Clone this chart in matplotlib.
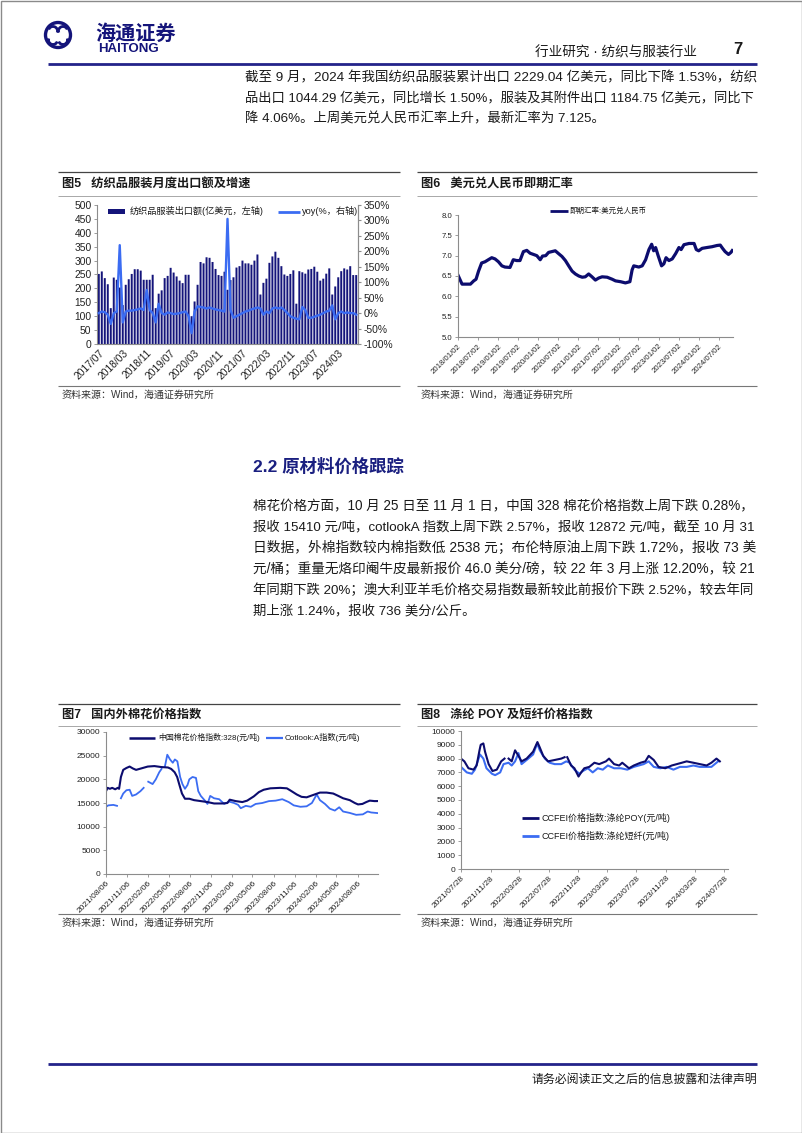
import numpy as np
import pandas as pd
import matplotlib
matplotlib.use('Agg')
import matplotlib.pyplot as plt
from matplotlib.patches import Rectangle, Circle, Arc
from matplotlib.lines import Line2D

# ---------------- data ----------------
# Fig 5: monthly textile & apparel exports (100m USD) and yoy (%), 2017/07 .. 2024/09
export_value = [252, 261, 237, 215, 129, 239, 231, 203, 140, 213, 233, 252, 269, 269, 264, 231,
                231, 231, 249, 129, 181, 193, 237, 245, 274, 257, 243, 228, 219, 249, 249, 100,
                153, 213, 295, 290, 312, 310, 295, 270, 248, 245, 260, 195, 230, 240, 275, 280,
                300, 290, 290, 285, 300, 322, 178, 220, 235, 292, 315, 332, 310, 280, 250, 245,
                252, 265, 145, 262, 258, 253, 268, 270, 278, 260, 228, 235, 253, 272, 178, 207,
                240, 262, 272, 268, 280, 248, 248]
export_yoy = [0, 5, 3, -5, -35, 0, 5, 220, -30, 5, 8, 8, 10, 12, 15, 10,
              75, 10, 0, -30, 30, 0, -5, 2, 0, -3, -2, 0, 3, 5, -10, -65,
              5, 22, 20, 18, 15, 18, 15, 12, 10, 8, 5, 305, 10, -15, -10, -5,
              0, 5, 8, 12, 15, 18, 15, -5, 5, 0, 15, 18, 15, 18, 10, 0,
              -10, -15, -18, -20, 20, 10, -15, -15, -12, -8, -5, 0, 5, 8, 25, -20,
              0, 5, 0, 2, 0, 0, -5]
export_ticklabels = ["2017/07", "2018/03", "2018/11", "2019/07", "2020/03", "2020/11",
                     "2021/07", "2022/03", "2022/11", "2023/07", "2024/03"]

# Fig 6: USD/CNY spot
fx_dates = ["2018-01-02", "2018-02-08", "2018-03-10", "2018-04-25", "2018-05-25", "2018-06-15",
            "2018-07-08", "2018-08-05", "2018-09-05", "2018-10-05", "2018-11-05", "2018-12-05",
            "2019-01-05", "2019-02-05", "2019-03-05", "2019-04-20", "2019-05-20", "2019-06-20",
            "2019-07-20", "2019-08-20", "2019-09-20", "2019-10-20", "2019-11-20", "2019-12-20",
            "2020-01-20", "2020-02-10", "2020-03-10", "2020-04-05", "2020-05-05", "2020-06-05",
            "2020-07-05", "2020-08-05", "2020-09-05", "2020-10-05", "2020-11-05", "2020-12-05",
            "2021-01-05", "2021-02-05", "2021-03-05", "2021-04-05", "2021-05-05", "2021-06-05",
            "2021-07-05", "2021-08-05", "2021-09-20", "2021-11-05", "2021-12-05", "2022-01-20",
            "2022-03-05", "2022-04-15", "2022-05-05", "2022-05-20", "2022-07-05", "2022-08-05",
            "2022-09-05", "2022-10-05", "2022-10-30", "2022-11-17", "2022-12-05", "2022-12-28",
            "2023-01-28", "2023-02-18", "2023-03-10", "2023-04-05", "2023-05-05", "2023-06-05",
            "2023-07-05", "2023-07-25", "2023-08-20", "2023-10-05", "2023-11-20", "2023-12-10",
            "2024-01-01", "2024-02-01", "2024-03-15", "2024-05-01", "2024-06-15", "2024-07-15",
            "2024-08-05", "2024-08-28", "2024-09-28", "2024-10-20", "2024-11-01"]
fx_values = [6.52, 6.30, 6.30, 6.30, 6.38, 6.42, 6.62, 6.82, 6.85, 6.90, 6.95, 6.92,
             6.85, 6.75, 6.72, 6.71, 6.90, 6.88, 6.88, 7.10, 7.13, 7.06, 7.03, 7.00,
             6.90, 6.99, 7.00, 7.08, 7.10, 7.12, 7.05, 6.98, 6.88, 6.75, 6.62, 6.55,
             6.50, 6.47, 6.48, 6.55, 6.48, 6.40, 6.45, 6.48, 6.47, 6.42, 6.38, 6.36,
             6.33, 6.36, 6.65, 6.75, 6.72, 6.75, 6.90, 7.15, 7.28, 7.12, 7.20, 7.00,
             6.75, 6.80, 6.95, 6.88, 6.92, 7.05, 7.20, 7.15, 7.27, 7.30, 7.30, 7.15,
             7.12, 7.18, 7.20, 7.22, 7.25, 7.26, 7.18, 7.10, 7.03, 7.08, 7.125]
fx_ticks = ["2018/01/02", "2018/07/02", "2019/01/02", "2019/07/02", "2020/01/02", "2020/07/02",
            "2021/01/02", "2021/07/02", "2022/01/02", "2022/07/02", "2023/01/02", "2023/07/02",
            "2024/01/02", "2024/07/02"]

# Fig 7: cotton price indices (yuan/t)
cn_dates = ["2021-08-06", "2021-08-13", "2021-08-23", "2021-09-02", "2021-09-15", "2021-09-26",
            "2021-10-02", "2021-10-10", "2021-10-20", "2021-11-03", "2021-11-17", "2021-12-01",
            "2021-12-15", "2022-01-06", "2022-02-04", "2022-03-05", "2022-04-03", "2022-05-03",
            "2022-05-17", "2022-06-01", "2022-06-12", "2022-06-22", "2022-07-03", "2022-07-16",
            "2022-08-04", "2022-08-25", "2022-09-23", "2022-10-22", "2022-11-20", "2022-12-26",
            "2023-01-17", "2023-01-27", "2023-02-22", "2023-03-23", "2023-04-13", "2023-05-12",
            "2023-06-03", "2023-06-24", "2023-07-23", "2023-09-04", "2023-10-03", "2023-10-20",
            "2023-11-15", "2023-12-06", "2023-12-28", "2024-01-26", "2024-02-24", "2024-03-24",
            "2024-04-22", "2024-05-14", "2024-06-04", "2024-07-03", "2024-07-25", "2024-08-08",
            "2024-08-27", "2024-09-13", "2024-09-28", "2024-10-19", "2024-11-01"]
cn_values = [17500, 18200, 18000, 18200, 17900, 18200, 18000, 20500, 22000, 22400, 22700, 22300,
             22000, 22300, 22700, 22800, 22600, 22500, 22200, 21500, 20500, 18800, 17000, 15900,
             15900, 15600, 15400, 15200, 14900, 14900, 15000, 15700, 15400, 15200, 15500, 16400,
             17300, 17800, 18100, 18200, 18100, 17600, 16800, 16300, 16200, 16700, 17200, 17200,
             17000, 16500, 16000, 15600, 15000, 14700, 14800, 15200, 15500, 15400, 15410]
ct_dates = ["2021-08-06", "2021-08-16", "2021-09-07", "2021-09-23", "2021-10-01", "2021-10-10",
            "2021-10-20", "2021-11-03", "2021-11-17", "2021-11-28", "2021-12-15", "2022-01-03",
            "2022-01-17", "2022-01-27", "2022-02-06", "2022-02-25", "2022-03-11", "2022-03-26",
            "2022-04-05", "2022-04-12", "2022-04-20", "2022-04-30", "2022-05-12", "2022-05-24",
            "2022-06-02", "2022-06-13", "2022-06-25", "2022-07-05", "2022-07-16", "2022-07-27",
            "2022-08-04", "2022-08-18", "2022-09-02", "2022-09-12", "2022-09-23", "2022-10-11",
            "2022-10-22", "2022-11-03", "2022-11-20", "2022-12-12", "2023-01-03", "2023-01-24",
            "2023-02-15", "2023-03-05", "2023-03-16", "2023-04-07", "2023-04-29", "2023-05-20",
            "2023-06-18", "2023-07-17", "2023-08-15", "2023-09-13", "2023-10-11", "2023-11-02",
            "2023-12-01", "2023-12-28", "2024-01-20", "2024-02-03", "2024-02-10", "2024-02-24",
            "2024-03-17", "2024-04-07", "2024-04-29", "2024-05-18", "2024-06-04", "2024-07-03",
            "2024-07-31", "2024-08-29", "2024-09-19", "2024-10-04", "2024-11-01"]
ct_values = [14200, 14500, 14600, 14400, np.nan, 16000, 17000, 17700, 17800, 16500, 16800, 17500,
             18200, np.nan, 19500, 19000, 20000, 21500, 22200, np.nan, 22800, 25200, 24200, 23500,
             24200, 23800, 20500, 19000, 18000, 18800, 20000, 20500, 20300, 17500, 16500, 15500,
             14800, 16500, 16000, 15800, 14800, 15300, 15000, 14600, 13900, 14400, 14200, 14800,
             15000, 15400, 15500, 15800, 15200, 14500, 14200, 14300, 15000, 16200, 16800, 15600,
             14800, 13800, 13400, 14100, 13200, 12900, 12500, 12600, 13200, 13000, 12872]
cot_ticks = ["2021/08/06", "2021/11/06", "2022/02/06", "2022/05/06", "2022/08/06", "2022/11/06",
             "2023/02/06", "2023/05/06", "2023/08/06", "2023/11/06", "2024/02/06", "2024/05/06",
             "2024/08/06"]

# Fig 8: polyester POY and staple fibre (yuan/t)
poy_dates = ["2021-07-28", "2021-08-11", "2021-08-28", "2021-09-18", "2021-10-01", "2021-10-13",
             "2021-10-18", "2021-10-29", "2021-11-05", "2021-11-20", "2021-12-06", "2021-12-24",
             "2022-01-11", "2022-01-25", "2022-02-03", "2022-02-11", "2022-02-24", "2022-03-10",
             "2022-03-24", "2022-04-06", "2022-04-27", "2022-05-24", "2022-06-11", "2022-06-21",
             "2022-07-05", "2022-07-25", "2022-08-22", "2022-09-18", "2022-10-02", "2022-10-08",
             "2022-10-13", "2022-10-29", "2022-11-12", "2022-11-29", "2022-12-10", "2022-12-23",
             "2023-01-13", "2023-02-03", "2023-02-23", "2023-03-23", "2023-04-05", "2023-04-26",
             "2023-05-17", "2023-05-30", "2023-06-27", "2023-07-17", "2023-08-14", "2023-09-03",
             "2023-09-17", "2023-10-08", "2023-10-28", "2023-11-25", "2023-12-22", "2024-01-12",
             "2024-02-02", "2024-02-22", "2024-03-21", "2024-04-17", "2024-05-15", "2024-06-04",
             "2024-06-25", "2024-07-09"]
poy_values = [8000, 7800, 7300, 7200, 7500, 8600, 9000, 9100, 8500, 7600, 7100, 7200,
              7800, 8000, np.nan, 8000, 7800, 8600, 8200, 7800, 8000, 8500, 9200, 8800,
              8200, 7800, 7900, 8000, 8100, np.nan, 8100, 7500, 7300, 6700, 7000, 7300,
              7400, 7700, 7600, 7800, 8000, 7600, 7500, 7700, 7300, 7500, 7700, 7800,
              8200, 7900, 7400, 7300, 7500, 7600, 7700, 7800, 7700, 7600, 7500, 7700,
              8000, 7800]
psf_dates = ["2021-07-28", "2021-08-21", "2021-09-11", "2021-09-24", "2021-10-15", "2021-10-29",
             "2021-11-11", "2021-12-04", "2021-12-17", "2022-01-07", "2022-01-21", "2022-02-11",
             "2022-02-24", "2022-03-10", "2022-03-24", "2022-04-06", "2022-05-04", "2022-05-24",
             "2022-06-10", "2022-06-21", "2022-07-12", "2022-08-01", "2022-08-22", "2022-09-18",
             "2022-10-09", "2022-10-23", "2022-11-12", "2022-12-03", "2022-12-17", "2023-01-07",
             "2023-01-27", "2023-02-17", "2023-03-10", "2023-03-31", "2023-04-26", "2023-05-24",
             "2023-06-20", "2023-07-17", "2023-08-27", "2023-09-17", "2023-10-08", "2023-11-04",
             "2023-12-01", "2023-12-29", "2024-01-25", "2024-02-22", "2024-03-21", "2024-04-17",
             "2024-05-15", "2024-06-04", "2024-06-18", "2024-07-02"]
psf_values = [7400, 7000, 6900, 7200, 8300, 8000, 7300, 6900, 6800, 7000, 7600, 7700,
              7500, 7800, 8400, 7600, 8000, 8300, 9100, 8600, 8000, 7700, 7600, 7600,
              7800, 7700, 7200, 6900, 7100, 7300, 7000, 7300, 7200, 7500, 7300, 7300,
              7200, 7400, 7600, 7800, 7400, 7300, 7400, 7200, 7400, 7400, 7500, 7400,
              7400, 7400, 7600, 7800]
pol_ticks = ["2021/07/28", "2021/11/28", "2022/03/28", "2022/07/28", "2022/11/28", "2023/03/28",
             "2023/07/28", "2023/11/28", "2024/03/28", "2024/07/28"]

# ---------------- page ----------------
W, H = 802, 1133
NAVY = '#14147a'
DNAVY = '#0c0c6e'
BLUE = '#3b6cf2'
TXT = '#1a1a1a'
GRID = '#8c8c8c'
FAM = ['Liberation Sans', 'Noto Sans CJK SC', 'DejaVu Sans']
CJK = ['Noto Sans CJK SC', 'DejaVu Sans']
plt.rcParams['font.family'] = FAM
plt.rcParams['axes.unicode_minus'] = False

fig = plt.figure(figsize=(W / 100, H / 100), dpi=100)


def ax_px(x0, y0, x1, y1):
    return fig.add_axes([x0 / W, 1 - y1 / H, (x1 - x0) / W, (y1 - y0) / H])


def style_axes(ax, size, color=GRID):
    for s in ['top', 'right']:
        ax.spines[s].set_visible(False)
    for s in ['left', 'bottom']:
        ax.spines[s].set_color(color)
        ax.spines[s].set_linewidth(0.8)
    ax.tick_params(axis='both', labelsize=size, colors=color, labelcolor='#222222',
                   length=2.5, width=0.6, pad=1.5)


def rot_labels(ax, size):
    for lab in ax.get_xticklabels():
        lab.set_rotation(45)
        lab.set_ha('right')
        lab.set_rotation_mode('anchor')
        lab.set_fontsize(size)


# ---- Fig 5 ----
ax5 = ax_px(97, 205, 358, 344)
xi = np.arange(len(export_value))
bars = ax5.bar(xi, export_value, width=0.66, color=NAVY, lw=0, zorder=2)
for b in bars:
    b.set_snap(False)
ax5.set_xlim(-0.6, len(xi) - 0.4)
ax5.set_ylim(0, 500)
ax5.set_yticks(np.arange(0, 501, 50))
style_axes(ax5, 7.4)
ax5.spines['right'].set_visible(True)
ax5.spines['right'].set_color(GRID)
ax5.set_xticks(np.arange(0, len(xi), 8))
ax5.set_xticklabels(export_ticklabels)
ax5.tick_params(axis='x', length=0, pad=3)
rot_labels(ax5, 7.4)
ax5r = ax5.twinx()
ax5r.plot(xi, export_yoy, color=BLUE, lw=1.7, zorder=3)
ax5r.set_ylim(-100, 350)
ax5r.set_yticks(np.arange(-100, 351, 50))
ax5r.set_yticklabels([f"{v}%" for v in range(-100, 351, 50)])
for s in ['top', 'left', 'bottom']:
    ax5r.spines[s].set_visible(False)
ax5r.spines['right'].set_color(GRID)
ax5r.tick_params(axis='y', labelsize=7.4, colors=GRID, labelcolor='#222222', length=2.5, pad=1.5)

# ---- Fig 6 ----
ax6 = ax_px(458, 215, 733, 337)
fxd = pd.to_datetime(fx_dates)
ax6.plot(fxd, fx_values, color=DNAVY, lw=2.3)
ax6.set_ylim(5.0, 8.0)
ax6.set_yticks(np.arange(5.0, 8.01, 0.5))
ax6.set_yticklabels([f"{v:.1f}" for v in np.arange(5.0, 8.01, 0.5)])
t6 = pd.to_datetime(fx_ticks, format="%Y/%m/%d")
ax6.set_xlim(t6[0], pd.Timestamp("2024-11-08"))
ax6.set_xticks(t6)
ax6.set_xticklabels(fx_ticks)
style_axes(ax6, 5.6)
rot_labels(ax6, 5.6)

# ---- Fig 7 ----
ax7 = ax_px(106, 732, 378, 874)
ax7.plot(pd.to_datetime(ct_dates), ct_values, color=BLUE, lw=1.3)
ax7.plot(pd.to_datetime(cn_dates), cn_values, color=DNAVY, lw=1.5)
ax7.set_ylim(0, 30000)
ax7.set_yticks(np.arange(0, 30001, 5000))
t7 = pd.to_datetime(cot_ticks, format="%Y/%m/%d")
ax7.set_xlim(t7[0], pd.Timestamp("2024-11-03"))
ax7.set_xticks(t7)
ax7.set_xticklabels(cot_ticks)
style_axes(ax7, 6.0)
rot_labels(ax7, 6.0)

# ---- Fig 8 ----
ax8 = ax_px(461, 731, 728, 869)
ax8.plot(pd.to_datetime(psf_dates), psf_values, color=BLUE, lw=1.5)
ax8.plot(pd.to_datetime(poy_dates), poy_values, color=DNAVY, lw=1.5)
ax8.set_ylim(0, 10000)
ax8.set_yticks(np.arange(0, 10001, 1000))
t8 = pd.to_datetime(pol_ticks, format="%Y/%m/%d")
ax8.set_xlim(t8[0], pd.Timestamp("2024-08-12"))
ax8.set_xticks(t8)
ax8.set_xticklabels(pol_ticks)
style_axes(ax8, 6.0)
rot_labels(ax8, 6.0)

# ---------------- overlay (page text, frames, legends) ----------------
ov = fig.add_axes([0, 0, 1, 1], facecolor='none')
ov.set_xlim(0, W)
ov.set_ylim(H, 0)
ov.axis('off')


def hline(x0, x1, y, color, lw):
    ov.add_line(Line2D([x0, x1], [y, y], color=color, lw=lw, solid_capstyle='butt'))


# page border
ov.add_patch(Rectangle((0.5, 0.5), W - 1, H - 1, fill=False, ec='#8a8a8a', lw=1.0))

# logo
ov.add_patch(Circle((58, 35), 12.5, fill=False, ec=NAVY, lw=2.4))
ov.add_patch(Arc((53, 31), 9, 9, theta1=200, theta2=20, ec=NAVY, lw=2.0))
ov.add_patch(Arc((63, 31), 9, 9, theta1=160, theta2=340, ec=NAVY, lw=2.0))
ov.add_patch(Arc((53, 40), 9, 9, theta1=20, theta2=200, ec=NAVY, lw=2.0))
ov.add_patch(Arc((63, 40), 9, 9, theta1=340, theta2=160, ec=NAVY, lw=2.0))
ov.text(95, 33, "海通证券", fontsize=14.5, fontweight='bold', color=NAVY, family=CJK,
        va='center', ha='left')
ov.text(98, 49, "HAITONG", fontsize=9.5, fontweight='bold', color=NAVY, va='center', ha='left')

# header
ov.text(697, 52, "行业研究 · 纺织与服装行业", fontsize=9.8, color=TXT, ha='right', va='center')
ov.text(742, 50, "7", fontsize=12, fontweight='bold', color=TXT, ha='right', va='center')
hline(48, 757, 63.5, '#23238a', 2.0)

# footer
hline(48, 757, 1063.5, '#23238a', 2.0)
ov.text(757, 1080, "请务必阅读正文之后的信息披露和法律声明", fontsize=8.6, color=TXT,
        ha='right', va='center')

# paragraphs
para1 = ["截至 9 月，2024 年我国纺织品服装累计出口 2229.04 亿美元，同比下降 1.53%，纺织",
         "品出口 1044.29 亿美元，同比增长 1.50%，服装及其附件出口 1184.75 亿美元，同比下",
         "降 4.06%。上周美元兑人民币汇率上升，最新汇率为 7.125。"]
para2 = ["棉花价格方面，10 月 25 日至 11 月 1 日，中国 328 棉花价格指数上周下跌 0.28%，",
         "报收 15410 元/吨，cotlookA 指数上周下跌 2.57%，报收 12872 元/吨，截至 10 月 31",
         "日数据，外棉指数较内棉指数低 2538 元；布伦特原油上周下跌 1.72%，报收 73 美",
         "元/桶；重量无烙印阉牛皮最新报价 46.0 美分/磅，较 22 年 3 月上涨 12.20%，较 21",
         "年同期下跌 20%；澳大利亚羊毛价格交易指数最新较此前报价下跌 2.52%，较去年同",
         "期上涨 1.24%，报收 736 美分/公斤。"]

body = []
for i, s in enumerate(para1):
    t = ov.text(245, 78 + i * 20.5, s, fontsize=9.6, color=TXT, ha='left', va='center')
    body.append((t, 757 - 245 if i < 2 else None))
for i, s in enumerate(para2):
    t = ov.text(253, 506 + i * 21.1, s, fontsize=9.6, color=TXT, ha='left', va='center')
    body.append((t, 757 - 253 if i < 5 else None))

ov.text(253, 466, "2.2 原材料价格跟踪", fontsize=12.5, fontweight='bold', color='#1a1f80',
        ha='left', va='center')

# chart frames and titles
for (x0, x1, ytop, ysub, ybot, ysrc, title) in [
        (58, 400, 171.5, 195.5, 385.5, 395, "图5   纺织品服装月度出口额及增速"),
        (417, 757, 171.5, 195.5, 385.5, 395, "图6   美元兑人民币即期汇率"),
        (58, 400, 703.5, 725.5, 913.5, 923, "图7   国内外棉花价格指数"),
        (417, 757, 703.5, 725.5, 913.5, 923, "图8   涤纶 POY 及短纤价格指数")]:
    hline(x0, x1, ytop, '#444444', 0.9)
    hline(x0, x1, ysub, '#9a9a9a', 0.6)
    hline(x0, x1, ybot, '#777777', 0.8)
    ov.text(x0 + 4, (ytop + ysub) / 2 + 0.5, title, fontsize=8.8, fontweight='bold',
            color=TXT, ha='left', va='center')
    ov.text(x0 + 4, ysrc, "资料来源：Wind，海通证券研究所", fontsize=7.2, color='#333333',
            ha='left', va='center')

# legends
ov.add_patch(Rectangle((108, 209), 17, 4.5, color=NAVY, lw=0))
ov.text(130, 211.5, "纺织品服装出口额(亿美元，左轴)", fontsize=6.6, color=TXT, ha='left', va='center')
hline(278, 300, 211.5, BLUE, 2.0)
ov.text(302, 211.5, "yoy(%，右轴)", fontsize=6.6, color=TXT, ha='left', va='center')

hline(550, 568, 211, DNAVY, 2.0)
ov.text(570, 211, "即期汇率:美元兑人民币", fontsize=5.4, color=TXT, ha='left', va='center')

hline(129, 155, 737.5, DNAVY, 1.8)
ov.text(158, 737.5, "中国棉花价格指数:328(元/吨)", fontsize=5.7, color=TXT, ha='left', va='center')
hline(266, 283, 737.5, BLUE, 1.6)
ov.text(285, 737.5, "Cotlook:A指数(元/吨)", fontsize=5.9, color=TXT, ha='left', va='center')

hline(522, 539, 818, DNAVY, 2.0)
ov.text(541, 818, "CCFEI价格指数:涤纶POY(元/吨)", fontsize=6.5, color=TXT, ha='left', va='center')
hline(522, 539, 836, BLUE, 2.0)
ov.text(541, 836, "CCFEI价格指数:涤纶短纤(元/吨)", fontsize=6.5, color=TXT, ha='left', va='center')

# justify full body lines by adjusting font size to the target width
fig.canvas.draw()
r = fig.canvas.get_renderer()
for t, target in body:
    if target is None:
        continue
    w = t.get_window_extent(r).width
    t.set_fontsize(t.get_fontsize() * target / w)

fig.savefig("out.png", dpi=100, facecolor='white')
